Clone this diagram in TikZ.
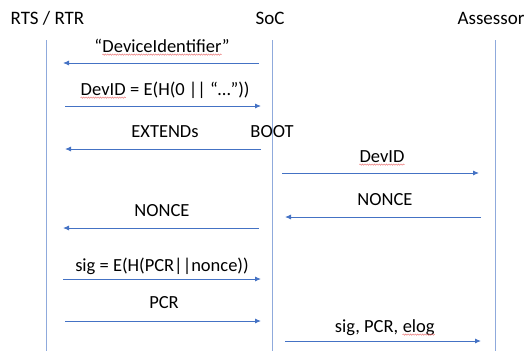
\documentclass[tikz,border=0pt]{standalone}
\usepackage{fontspec}
\setmainfont{Carlito}
\usetikzlibrary{arrows.meta,decorations.pathmorphing}
\definecolor{msgblue}{HTML}{4472C4}
\definecolor{lifeblue}{HTML}{8FAADC}
\definecolor{spellred}{HTML}{E86A6A}
\tikzset{
  squiggle/.style={draw=spellred, line width=0.4pt, decorate,
    decoration={snake, amplitude=0.7pt, segment length=2.4pt}}
}
% word with a wavy red underline
\newcommand\wavyword[1]{\tikz[baseline=0pt,x=1pt,y=1pt]{%
  \node[inner sep=0pt,anchor=base] (ww) {#1};%
  \draw[squiggle] ([yshift=-2.6pt]ww.base west) -- ([yshift=-2.6pt]ww.base east);}}
\begin{document}
\begin{tikzpicture}[x=1pt,y=-1pt,
  head/.style={font=\fontsize{19}{22}\selectfont, inner sep=0pt, anchor=base},
  lbl/.style={font=\fontsize{18.5}{22}\selectfont, inner sep=0pt, anchor=base},
  life/.style={draw=lifeblue, line width=1pt},
  msg/.style={draw=msgblue, line width=0.9pt, -{Latex[length=6pt,width=5pt]}}
]
\useasboundingbox (0,0) rectangle (530,351);

% participants
\node[head] (rts) at (47.5,24) {RTS / RTR};
\node[head] (soc) at (270,24) {SoC};
\node[head] (ass) at (491,24) {Assessor};

% lifelines
\coordinate (rtsTop) at (46,40);  \coordinate (rtsBot) at (46,351);
\coordinate (socTop) at (272,40); \coordinate (socBot) at (272,351);
\coordinate (assTop) at (495,40); \coordinate (assBot) at (495,351);
\draw[life] (rtsTop) -- (rtsBot);
\draw[life] (socTop) -- (socBot);
\draw[life] (assTop) -- (assBot);

% message end points
\coordinate (m1a) at (259,63);  \coordinate (m1b) at (63,63);
\coordinate (m2a) at (65,106);  \coordinate (m2b) at (261,106);
\coordinate (m3a) at (261,149); \coordinate (m3b) at (65,149);
\coordinate (m4a) at (282,173); \coordinate (m4b) at (479,173);
\coordinate (m5a) at (481,217); \coordinate (m5b) at (285,217);
\coordinate (m6a) at (259,228); \coordinate (m6b) at (63,228);
\coordinate (m7a) at (63,279);  \coordinate (m7b) at (261,279);
\coordinate (m8a) at (65,321);  \coordinate (m8b) at (261,321);
\coordinate (m9a) at (285,341); \coordinate (m9b) at (481,341);

\draw[msg] (m1a) -- (m1b);
\draw[msg] (m2a) -- (m2b);
\draw[msg] (m3a) -- (m3b);
\draw[msg] (m4a) -- (m4b);
\draw[msg] (m5a) -- (m5b);
\draw[msg] (m6a) -- (m6b);
\draw[msg] (m7a) -- (m7b);
\draw[msg] (m8a) -- (m8b);
\draw[msg] (m9a) -- (m9b);

% message labels
\node[lbl] (l1) at (162,52) {“\wavyword{DeviceIdentifier}”};
\node[lbl] (l2) at (165,95) {\wavyword{DevID} = E(H(0 || “…”))};
\node[lbl] (l3) at (165,137) {EXTENDs};
\node[lbl] (l3b) at (272,137) {BOOT};
\node[lbl] (l4) at (382,162) {\wavyword{DevID}};
\node[lbl] (l5) at (385,205) {NONCE};
\node[lbl] (l6) at (162,216) {NONCE};
\node[lbl] (l7) at (162,271) {sig = E(H(PCR||nonce))};
\node[lbl] (l8) at (164,308) {PCR};
\node[lbl] (l9) at (385,332) {sig, PCR, \wavyword{elog}};
\end{tikzpicture}
\end{document}
